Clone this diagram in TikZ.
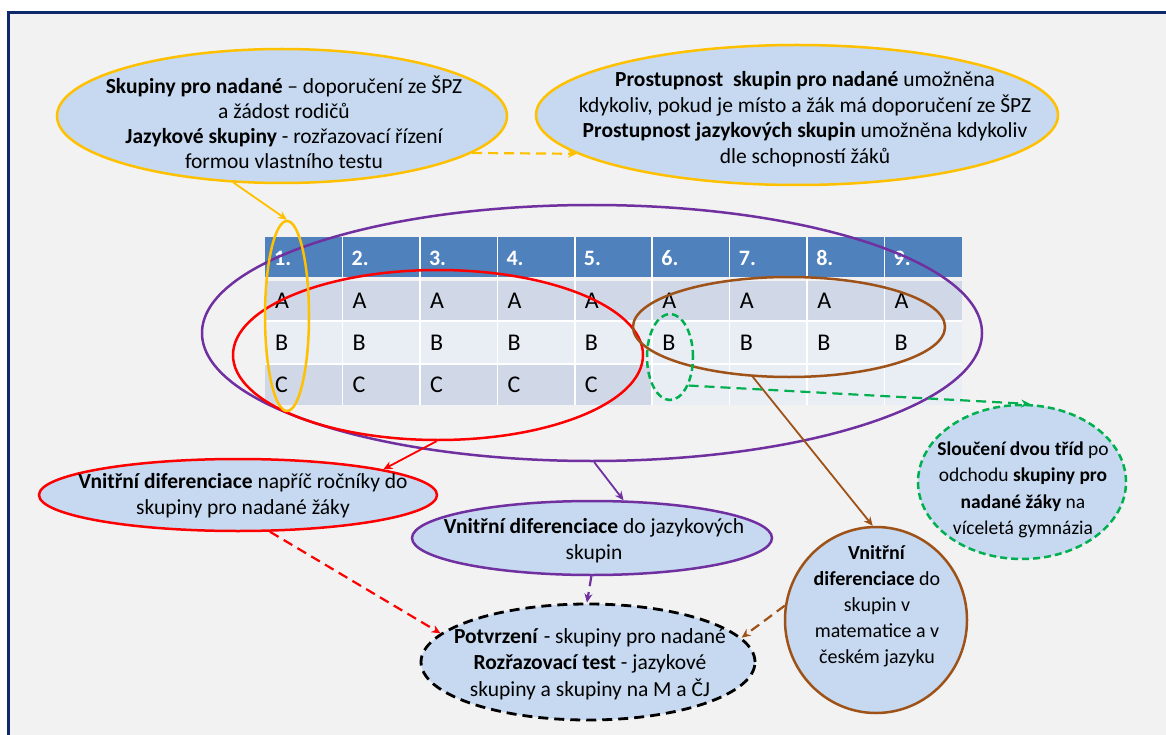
\documentclass[tikz,border=0pt]{standalone}
\usepackage{fontspec}
\setmainfont{Carlito}
\usetikzlibrary{shapes.geometric,arrows.meta,calc}
\definecolor{bgc}{HTML}{F2F2F2}
\definecolor{navy}{HTML}{0F2A6B}
\definecolor{ellfill}{HTML}{C6D9F0}
\definecolor{gold}{HTML}{FFC000}
\definecolor{purp}{HTML}{7030A0}
\definecolor{redc}{HTML}{FF0000}
\definecolor{brownc}{HTML}{9E5218}
\definecolor{greenc}{HTML}{00B050}
\definecolor{hdr}{HTML}{4F81BD}
\definecolor{rowd}{HTML}{D0D8E8}
\definecolor{rowl}{HTML}{E9EDF4}
\begin{document}
\begin{tikzpicture}[x=1pt,y=-1pt,
  ell/.style={ellipse, inner sep=0pt, fill=ellfill, line width=2.5pt},
  ring/.style={ellipse, inner sep=0pt, line width=2.5pt},
  txt/.style={align=center, inner sep=0pt, font=\fontsize{21.5}{26}\selectfont},
  conn/.style={line width=1.8pt, -{Stealth[length=9pt,width=8pt]}},
  dconn/.style={conn, line width=2.2pt, dash pattern=on 10pt off 6pt},
  cell/.style={anchor=west, inner sep=0pt, font=\fontsize{24}{28}\selectfont}]
\useasboundingbox (0,0) rectangle (1166,735);
\fill[white] (0,0) rectangle (1166,735);
\fill[bgc] (8,13) rectangle (1166,735);
\draw[navy, line width=3pt] (8,735) -- (8,13) -- (1166,13);

% table
\fill[hdr] (265,237) rectangle (962,277);
\fill[rowd] (265,281) rectangle (962,321);
\fill[rowl] (265,321) rectangle (962,364);
\fill[rowd] (265,364) rectangle (652.2,405);
\fill[rowl] (652.2,364) rectangle (962,405);
\draw[white, line width=1.5pt] (265,321) -- (962,321) (265,364) -- (962,364);
\foreach \i in {1,...,8}{
  \draw[white, line width=1.5pt] ({265+\i*77.44},237) -- ({265+\i*77.44},405);
}
\foreach \i in {1,...,9}{
  \node[cell, text=white, font=\fontsize{22}{26}\selectfont\bfseries] (h\i) at ({265+(\i-1)*77.44+9},258) {\i.};
  \node[cell] (a\i) at ({265+(\i-1)*77.44+10},301) {A};
  \node[cell] (b\i) at ({265+(\i-1)*77.44+10},343) {B};
}
\foreach \i in {1,...,5}{
  \node[cell] (c\i) at ({265+(\i-1)*77.44+10},385) {C};
}

% rings over the table
\node[ring, draw=purp, minimum width=780pt, minimum height=256pt] (p1) at (592,333) {};
\node[ring, draw=redc, minimum width=410pt, minimum height=170pt] (r1) at (438,355) {};
\node[ring, draw=brownc, minimum width=312pt, minimum height=100pt] (b1) at (789,327) {};
\node[ring, draw=gold, minimum width=44pt, minimum height=190pt] (ye) at (287,316) {};
\node[ring, draw=greenc, dash pattern=on 7pt off 4pt, minimum width=46pt, minimum height=86pt] (gs) at (670,357) {};

% text ellipses
\node[ell, draw=gold, minimum width=450pt, minimum height=134pt] (tl) at (282,116) {};
\node[txt, font=\fontsize{21.5}{25}\selectfont] (tlt) at (284,122) {\textbf{Skupiny pro nadané} – doporučení ze ŠPZ\\ a žádost rodičů\\ \textbf{Jazykové skupiny} - rozřazovací řízení\\ formou vlastního testu};

\node[ell, draw=gold, minimum width=522pt, minimum height=140pt] (tr) at (797,115) {};
\node[txt, font=\fontsize{21.5}{25.5}\selectfont] (trt) at (805,119) {\textbf{Prostupnost\ \ skupin pro nadané} umožněna\\ kdykoliv, pokud je místo a žák má doporučení ze ŠPZ\\ \textbf{Prostupnost jazykových skupin} umožněna kdykoliv\\ dle schopností žáků};

\node[ell, draw=redc, minimum width=398pt, minimum height=72pt] (r2) at (238,495) {};
\node[txt] (r2t) at (243,496) {\textbf{Vnitřní diferenciace} napříč ročníky do\\ skupiny pro nadané žáky};

\node[ell, draw=purp, minimum width=360pt, minimum height=74pt] (p2) at (592,538) {};
\node[txt] (p2t) at (594,541) {\textbf{Vnitřní diferenciace} do jazykových\\ skupin};

\node[ell, draw=brownc, minimum width=182pt, minimum height=186pt] (b2) at (876,620) {};
\node[txt, font=\fontsize{20}{26}\selectfont] (b2t) at (877,606) {\textbf{Vnitřní}\\ \textbf{diferenciace} do\\ skupin v\\ matematice a v\\ českém jazyku};

\node[ell, draw=greenc, dash pattern=on 7pt off 4pt, minimum width=208pt, minimum height=154pt] (g2) at (1022,482) {};
\node[txt, font=\fontsize{19.5}{26.5}\selectfont] (g2t) at (1023,490) {\textbf{Sloučení dvou tříd} po\\ odchodu \textbf{skupiny pro}\\ \textbf{nadané žáky} na\\ víceletá gymnázia};

\node[ell, draw=black, line width=2.8pt, dash pattern=on 10pt off 6pt, minimum width=334pt, minimum height=116pt] (k) at (588,662) {};
\node[txt, font=\fontsize{21.5}{26.5}\selectfont] (kt) at (590,664) {\textbf{Potvrzení} - skupiny pro nadané\\ \textbf{Rozřazovací test} - jazykové\\ skupiny a skupiny na M a ČJ};

% connectors
\draw[conn, gold] (tl.-126.3) -- (ye.north);
\draw[dconn, gold] (tl.-11.3) -- (tr.-170.1);
\draw[conn, redc] (r1.-91) -- (r2.10.5);
\draw[conn, purp] (p1.-89) -- (p2.50);
\draw[conn, brownc] (b1.-126.9) -- (b2.92);
\draw[dconn, greenc] (gs.-57) -- (g2.84);
\draw[dconn, redc] (r2.-49) -- (k.169.8);
\draw[dconn, purp] (p2.-91) -- (k.91);
\draw[dconn, brownc] (b2.171.7) -- (k.9);
\end{tikzpicture}
\end{document}
